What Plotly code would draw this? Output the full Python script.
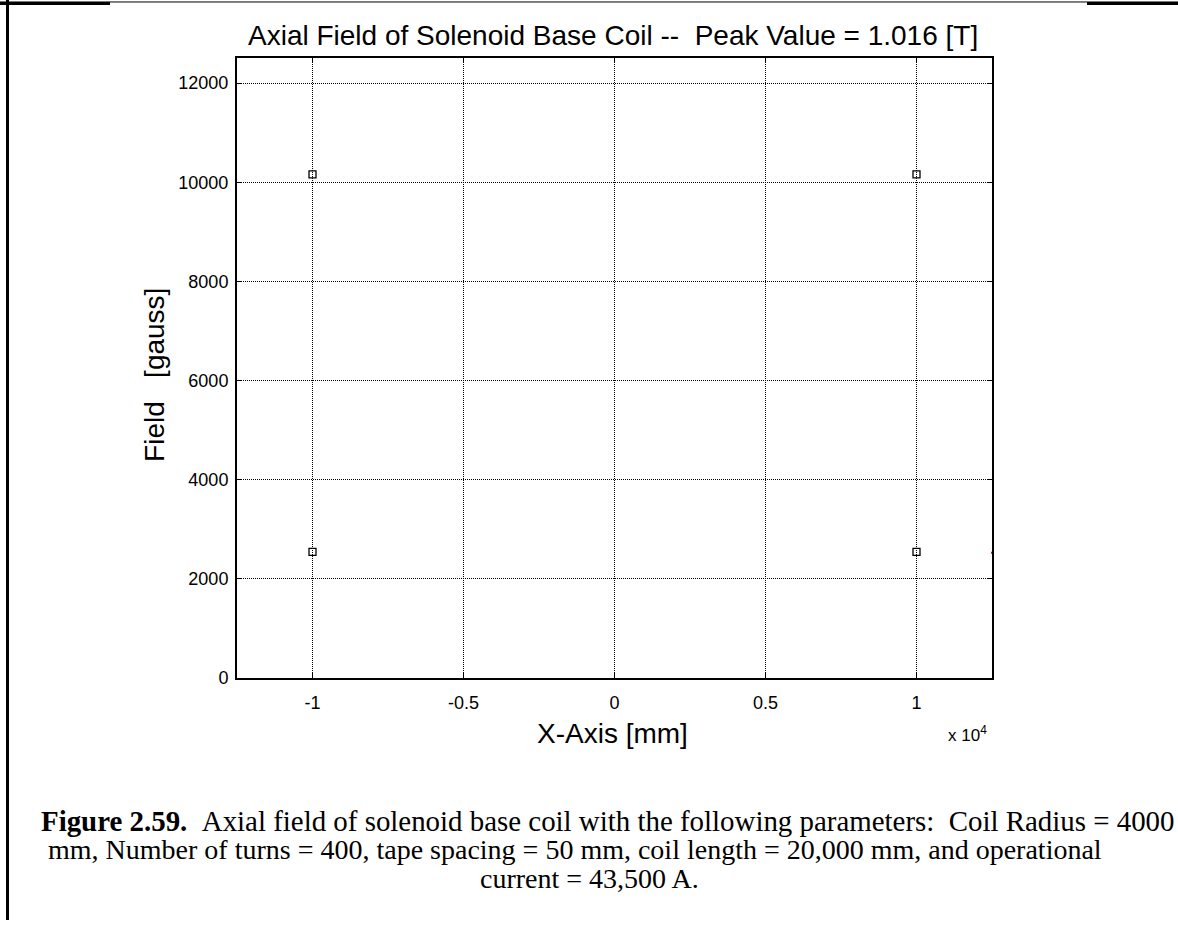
import plotly.graph_objects as go

# Data
coil_end_x = [-10000, -10000, 10000, 10000]       # mm
field_gauss = [2540, 10160, 2540, 10160]          # gauss
red_x = [12500]
red_field = [2520]

x_tick_vals = [-10000, -5000, 0, 5000, 10000]
x_tick_text = ["-1", "-0.5", "0", "0.5", "1"]
y_tick_vals = [0, 2000, 4000, 6000, 8000, 10000, 12000]
y_tick_text = ["0", "2000", "4000", "6000", "8000", "10000", "12000"]

W, H = 1178, 930
L, R, T, B = 237, 992, 59, 685

def px(x):
    return x / W

def py(y):
    return 1 - y / H

fig = go.Figure()
fig.add_trace(go.Scatter(
    x=coil_end_x, y=field_gauss, mode="markers",
    marker=dict(symbol="square-open", size=7, color="black", line=dict(width=1.3, color="black")),
    showlegend=False, hoverinfo="x+y"))
fig.add_trace(go.Scatter(
    x=red_x, y=red_field, mode="markers",
    marker=dict(symbol="square", size=2, color="red"),
    showlegend=False, cliponaxis=False))

axis_common = dict(
    showline=True, linecolor="black", linewidth=2, mirror="ticks",
    ticks="inside", ticklen=5, tickcolor="black", tickwidth=1,
    showgrid=True, gridcolor="black", gridwidth=1, griddash="1px,1px",
    zeroline=False,
    tickfont=dict(family="Liberation Sans, Arial", size=18, color="black"),
)

fig.update_layout(
    width=W, height=H,
    margin=dict(l=0, r=0, t=0, b=0),
    paper_bgcolor="white", plot_bgcolor="white",
    xaxis=dict(domain=[px(L), px(R)], range=[-12500, 12500],
               tickvals=x_tick_vals, ticktext=x_tick_text, ticklabelstandoff=8, **axis_common),
    yaxis=dict(domain=[py(B), py(T)], range=[0, 12500],
               tickvals=y_tick_vals, ticktext=y_tick_text, ticklabelstandoff=3, **axis_common),
)

sans = "Liberation Sans, Arial"
serif = "Liberation Serif, Times New Roman"
nb = "\u00a0"

annotations = [
    dict(text="Axial Field of Solenoid Base Coil --" + nb * 2 + "Peak Value = 1.016 [T]",
         x=px(613), y=py(36), xanchor="center", yanchor="middle",
         font=dict(family=sans, size=28, color="black")),
    dict(text="X-Axis [mm]", x=px(612), y=py(741), xanchor="center", yanchor="middle",
         font=dict(family=sans, size=28, color="black")),
    dict(text="Field" + nb * 3 + "[gauss]", x=px(155), y=py(379), xanchor="center", yanchor="middle",
         textangle=-90, font=dict(family=sans, size=28, color="black")),
    dict(text="x 10<sup>4</sup>", x=px(946), y=py(742), xanchor="left", yanchor="middle",
         font=dict(family=sans, size=17, color="black")),
    dict(text="<b>Figure 2.59.</b>" + nb * 2 + "Axial field of solenoid base coil with the following parameters:" + nb * 2 + "Coil Radius = 4000",
         x=px(39), y=py(830), xanchor="left", yanchor="middle",
         font=dict(family=serif, size=28.9, color="black")),
    dict(text="mm, Number of turns = 400, tape spacing = 50 mm, coil length = 20,000 mm, and operational",
         x=px(46), y=py(859), xanchor="left", yanchor="middle",
         font=dict(family=serif, size=28, color="black")),
    dict(text="current = 43,500 A.",
         x=px(478), y=py(888), xanchor="left", yanchor="middle",
         font=dict(family=serif, size=28, color="black")),
]
for a in annotations:
    a.update(xref="paper", yref="paper", showarrow=False)
fig.update_layout(annotations=annotations)

shapes = [
    # left page border
    dict(type="line", x0=px(7.5), x1=px(7.5), y0=py(0), y1=py(930), line=dict(color="black", width=3)),
    # top border thin
    dict(type="line", x0=px(0), x1=px(1178), y0=py(2), y1=py(2), line=dict(color="black", width=1)),
    # top border thick parts
    dict(type="line", x0=px(0), x1=px(110), y0=py(3.5), y1=py(3.5), line=dict(color="black", width=3)),
    dict(type="line", x0=px(1087), x1=px(1178), y0=py(3.5), y1=py(3.5), line=dict(color="black", width=3)),
]
for s in shapes:
    s.update(xref="paper", yref="paper")
fig.update_layout(shapes=shapes)

fig.write_html("out.html", config={"displayModeBar": False},
               post_script="document.body.style.margin='0';document.body.style.overflow='hidden';")
